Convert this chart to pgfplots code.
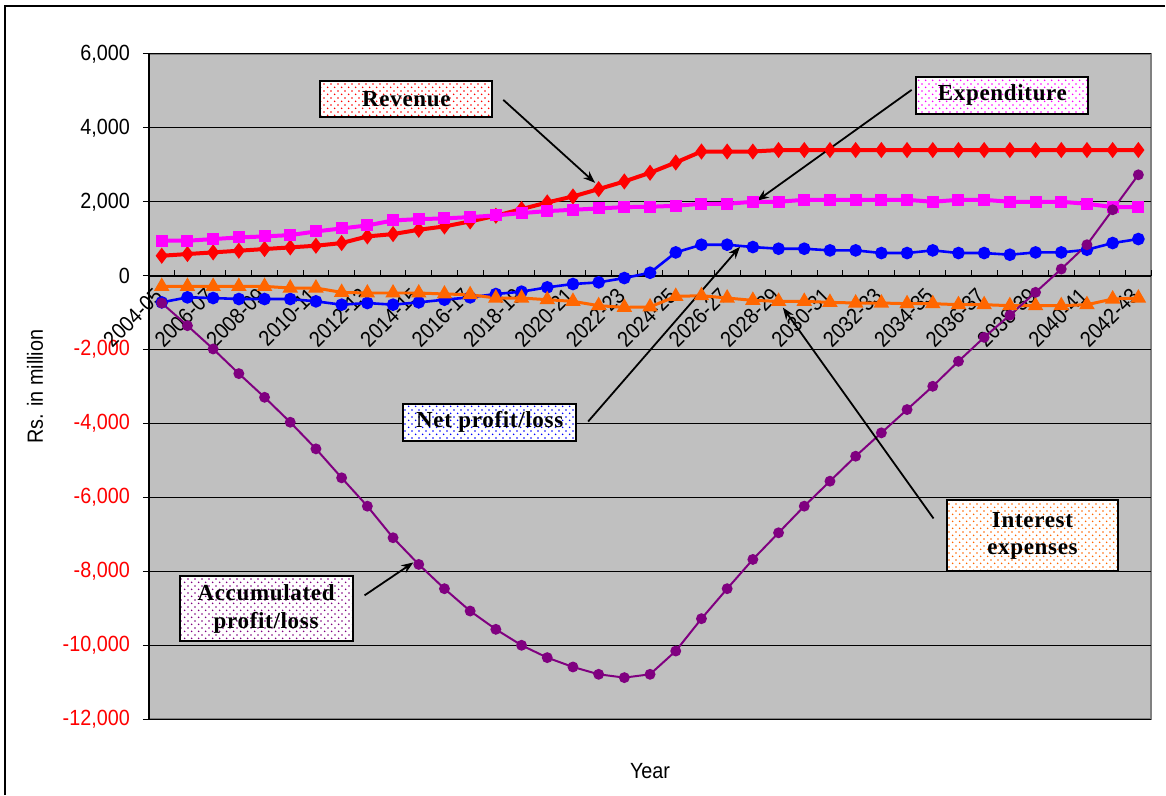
\documentclass[border=0pt]{standalone}
\usepackage{fontspec}
\setmainfont{Liberation Sans}
\newfontfamily\tickfont[FakeStretch=0.9]{Liberation Sans}
\newfontfamily\annfont[LetterSpace=3]{Liberation Serif}
\usepackage{pgfplots}
\pgfplotsset{compat=1.18}
\usetikzlibrary{arrows.meta,patterns.meta}
\definecolor{bgc}{HTML}{C0C0C0}
\definecolor{cred}{HTML}{FF0000}
\definecolor{cmag}{HTML}{FF00FF}
\definecolor{cblue}{HTML}{0000FF}
\definecolor{corange}{HTML}{FF6600}
\definecolor{cpurple}{HTML}{800080}
\tikzdeclarepattern{
  name=fdots,
  type=uncolored,
  bounding box={(0,0) and (3.4pt,3.4pt)},
  tile size={(3.4pt,3.4pt)},
  code={
    \fill (0.85pt,0.85pt) circle (0.45pt);
    \fill (2.55pt,2.55pt) circle (0.45pt);
  }
}
\tikzset{
  ann/.style={draw=black, line width=1pt, preaction={fill=white}, pattern=fdots, pattern color=#1,
    align=center, inner sep=2pt, font=\annfont\bfseries\fontsize{11.5}{14}\selectfont},
  arr/.style={-{Stealth[length=6pt,width=4.5pt]}, line width=0.9pt, black}
}
\begin{document}
\begin{tikzpicture}
\begin{axis}[
  scale only axis, width=501.5pt, height=332.85pt,
  xmin=-0.5, xmax=38.5, ymin=-12000, ymax=6000,
  axis x line=middle, axis y line=left,
  axis line style={-, black},
  x axis line style={line width=0.8pt},
  y axis line style={line width=0.8pt},
  axis background/.style={fill=bgc, draw=gray, line width=1pt},
  ymajorgrids, major grid style={black, line width=0.5pt},
  scaled y ticks=false,
  xtick={-0.5,0.5,...,38.5}, xticklabels={},
  xtick align=inside, ytick align=outside,
  major tick length=3pt,
  tick style={black, line width=0.5pt},
  extra x ticks={0,2,...,38},
  extra x tick labels={2004-05,2006-07,2008-09,2010-11,2012-13,2014-15,2016-17,2018-19,2020-21,2022-23,2024-25,2026-27,2028-29,2030-31,2032-33,2034-35,2036-37,2038-39,2040-41,2042-43},
  extra x tick style={major tick length=0pt, grid=none,
    xticklabel style={xshift=-1.5pt, yshift=-8pt, rotate=45, anchor=east, inner sep=0pt}},
  ytick={-12000,-10000,...,6000},
  yticklabels={{\color{red}-12,000},{\color{red}-10,000},{\color{red}-8,000},{\color{red}-6,000},{\color{red}-4,000},{\color{red}-2,000},0,{2,000},{4,000},{6,000}},
  yticklabel style={xshift=-3pt},
  tick label style={font=\tickfont\fontsize{11}{13}\selectfont},
  label style={font=\tickfont\fontsize{11}{13}\selectfont},
  ylabel={Rs. in million},
  ylabel style={at={(axis description cs:-0.1137,0.5)}, anchor=center, rotate=0},
  xlabel={Year},
  xlabel style={at={(axis description cs:0.5,-0.078)}, anchor=center},
  clip=false,
]
\coordinate (SW) at (rel axis cs:0,0);
\coordinate (NE) at (rel axis cs:1,1);

% Revenue
\addplot[color=cred, line width=2pt, mark=diamond*, mark size=2.4pt, mark options={solid}] coordinates {
(0,540) (1,586) (2,631) (3,676) (4,721) (5,766) (6,811) (7,883) (8,1063) (9,1126)
(10,1243) (11,1333) (12,1468) (13,1622) (14,1802) (15,1982) (16,2144) (17,2343) (18,2550) (19,2785)
(20,3063) (21,3360) (22,3360) (23,3360) (24,3400) (25,3400) (26,3400) (27,3400) (28,3400) (29,3400)
(30,3400) (31,3400) (32,3400) (33,3400) (34,3400) (35,3400) (36,3400) (37,3400) (38,3400)};
% Expenditure
\addplot[color=cmag, line width=2pt, mark=square*, mark size=2pt, mark options={solid}] coordinates {
(0,946) (1,946) (2,991) (3,1036) (4,1063) (5,1099) (6,1198) (7,1279) (8,1360) (9,1495)
(10,1531) (11,1550) (12,1586) (13,1631) (14,1694) (15,1748) (16,1784) (17,1820) (18,1856) (19,1865)
(20,1892) (21,1946) (22,1946) (23,2000) (24,2000) (25,2054) (26,2054) (27,2054) (28,2054) (29,2054)
(30,2000) (31,2054) (32,2054) (33,2000) (34,2000) (35,2000) (36,1946) (37,1856) (38,1856)};
% Net profit/loss
\addplot[color=cblue, line width=1.3pt, mark=*, mark size=2.5pt, mark options={solid}] coordinates {
(0,-721) (1,-586) (2,-604) (3,-631) (4,-631) (5,-631) (6,-694) (7,-784) (8,-739) (9,-784)
(10,-721) (11,-649) (12,-586) (13,-496) (14,-432) (15,-315) (16,-225) (17,-180) (18,-63) (19,80)
(20,630) (21,838) (22,838) (23,775) (24,730) (25,730) (26,685) (27,685) (28,613) (29,613)
(30,685) (31,613) (32,613) (33,568) (34,630) (35,630) (36,703) (37,884) (38,992)};
% Interest expenses
\addplot[color=corange, line width=1.5pt, mark=triangle*, mark size=3pt, mark options={solid}] coordinates {
(0,-289) (1,-289) (2,-289) (3,-289) (4,-289) (5,-333) (6,-333) (7,-451) (8,-468) (9,-468)
(10,-468) (11,-495) (12,-514) (13,-604) (14,-604) (15,-649) (16,-694) (17,-811) (18,-856) (19,-845)
(20,-559) (21,-541) (22,-604) (23,-667) (24,-694) (25,-694) (26,-721) (27,-739) (28,-739) (29,-757)
(30,-757) (31,-784) (32,-784) (33,-811) (34,-811) (35,-811) (36,-784) (37,-631) (38,-604)};
% Accumulated profit/loss
\addplot[color=cpurple, line width=1pt, mark=*, mark size=2.2pt, mark options={solid}] coordinates {
(0,-739) (1,-1352) (2,-1982) (3,-2649) (4,-3290) (5,-3965) (6,-4685) (7,-5469) (8,-6236) (9,-7090)
(10,-7812) (11,-8469) (12,-9073) (13,-9568) (14,-10000) (15,-10334) (16,-10587) (17,-10785) (18,-10875) (19,-10785)
(20,-10155) (21,-9280) (22,-8469) (23,-7677) (24,-6956) (25,-6236) (26,-5560) (27,-4884) (28,-4252) (29,-3622)
(30,-2992) (31,-2316) (32,-1668) (33,-1068) (34,-450) (35,180) (36,838) (37,1784) (38,2730)};

% annotations
\draw[arr] (axis cs:13.29,4757) -- (axis cs:16.86,2514);
\draw[arr] (axis cs:29.18,5028) -- (axis cs:23.16,2027);
\draw[arr] (axis cs:16.59,-3946) -- (axis cs:22.5,784);
\draw[arr] (axis cs:30.03,-6568) -- (axis cs:24.17,-865);
\draw[arr] (axis cs:7.89,-8650) -- (axis cs:9.79,-7758);
\node[ann=red, minimum width=86pt, minimum height=18pt] at (axis cs:9.52,4784) {Revenue};
\node[ann=cmag, minimum width=86pt, minimum height=18.5pt] at (axis cs:32.71,4879) {Expenditure};
\node[ann=cblue, minimum width=86.5pt, minimum height=18.5pt] at (axis cs:12.76,-3960) {Net profit/loss};
\node[ann=corange, minimum width=86pt, minimum height=35.5pt] at (axis cs:33.88,-7041) {Interest\\expenses};
\node[ann=cpurple, minimum width=86.5pt, minimum height=32.5pt] at (axis cs:4.06,-9014) {Accumulated\\profit/loss};
\end{axis}
\path ([shift={(-74.5pt,-38pt)}]SW) coordinate (IMGSW);
\path ([shift={(7pt,27pt)}]NE) coordinate (IMGNE);
\path (IMGSW) rectangle (IMGNE);
\draw[line width=0.8pt] ([xshift=2.5pt]IMGSW) |- ([yshift=-3pt]IMGNE);
\end{tikzpicture}
\end{document}
